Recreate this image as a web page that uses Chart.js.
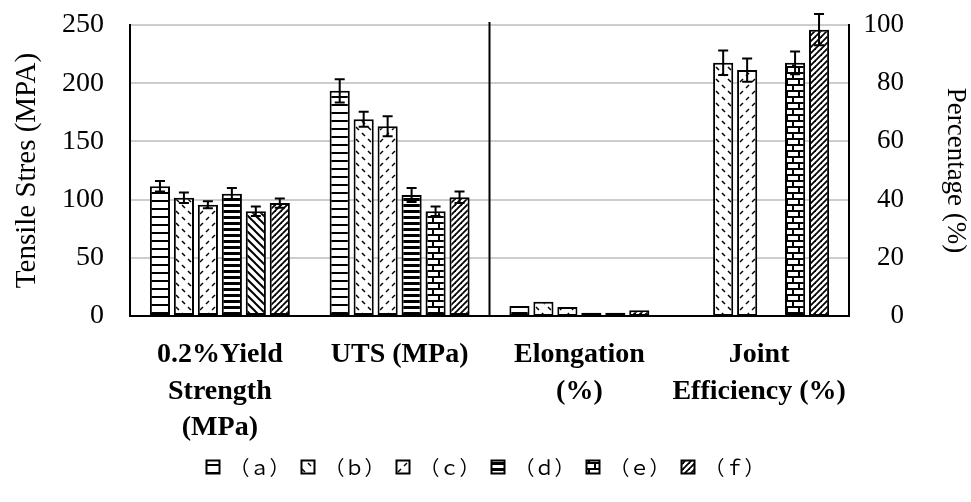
<!DOCTYPE html>
<html>
<head>
<meta charset="utf-8">
<script src="https://cdn.jsdelivr.net/npm/chart.js@4.4.0/dist/chart.umd.min.js"></script>
<style>
  html, body { margin: 0; padding: 0; background: #fff; }
  #wrap { width: 971px; height: 502px; }
</style>
</head>
<body>
<div id="wrap"><canvas id="chart" width="971" height="502"></canvas></div>
<script>
// categories: first two read on the MPa axis, last two on the % axis
const categories = [['0.2%Yield', 'Strength', '(MPa)'], 'UTS (MPa)', ['Elongation', '(%)'], ['Joint', 'Efficiency (%)']];
const percentFrom = 2;
const seriesNames = ['（ａ）', '（ｂ）', '（ｃ）', '（ｄ）', '（ｅ）', '（ｆ）'];
const rightTitle = 'Percentage (%)';

const valuesA = [111.5, 193.5, 3.4, null];
const valuesB = [101.5, 169, 4.9, 87];
const valuesC = [95.5, 163, 3.1, 84.5];
const valuesD = [105, 104, 1.1, null];
const valuesE = [90, 90, 1.1, 87];
const valuesF = [97, 102, 2, 98.4];

const errorsA = [4.5, 10, 0, 0];
const errorsB = [4.5, 6.5, 0, 4.2];
const errorsC = [3, 8.5, 0, 4];
const errorsD = [5, 6, 0, 0];
const errorsE = [4, 4, 0, 3.9];
const errorsF = [4, 5, 0, 5.4];

const stressTicks = [0, 50, 100, 150, 200, 250];
const percentTicks = [0, 20, 40, 60, 80, 100];

const ctx = document.getElementById('chart').getContext('2d');

function makePattern(w, h, draw) {
    const c = document.createElement('canvas');
    c.width = w; c.height = h;
    const g = c.getContext('2d');
    g.fillStyle = '#fff';
    g.fillRect(0, 0, w, h);
    g.fillStyle = '#000';
    g.strokeStyle = '#000';
    draw(g);
    return ctx.createPattern(c, 'repeat');
}
function line(g, x1, y1, x2, y2) {
    g.beginPath(); g.moveTo(x1, y1); g.lineTo(x2, y2); g.stroke();
}

const hLines = makePattern(8, 8, g => g.fillRect(0, 0, 8, 2));
const hThick = makePattern(6, 6, g => g.fillRect(0, 0, 6, 3));
const dashBack = makePattern(12, 12, g => {
    g.lineWidth = 1.5;
    line(g, 2, 1, 5, 4);
    line(g, 8, 7, 11, 10);
});
const dashFwd = makePattern(12, 12, g => {
    g.lineWidth = 1.5;
    line(g, 5, 1, 2, 4);
    line(g, 11, 7, 8, 10);
});
const brick = makePattern(12, 12, g => {
    g.fillRect(0, 0, 12, 2);
    g.fillRect(0, 6, 12, 2);
    g.fillRect(0, 0, 2, 6);
    g.fillRect(6, 6, 2, 6);
});
const diagBack = makePattern(8, 8, g => {
    g.lineWidth = 2;
    line(g, -1, -1, 9, 9);
    line(g, -1, 7, 1, 9);
    line(g, 7, -1, 9, 1);
});
const diagFwd = makePattern(6, 6, g => {
    g.lineWidth = 1.8;
    line(g, -1, 7, 7, -1);
    line(g, -1, 1, 1, -1);
    line(g, 5, 7, 7, 5);
});

const series = [
    { name: seriesNames[0], values: valuesA, errors: errorsA, fill: [hLines, hLines, hLines, hLines], legendFill: hLines },
    { name: seriesNames[1], values: valuesB, errors: errorsB, fill: [dashBack, dashBack, dashBack, dashBack], legendFill: dashBack },
    { name: seriesNames[2], values: valuesC, errors: errorsC, fill: [dashFwd, dashFwd, dashFwd, dashFwd], legendFill: dashFwd },
    { name: seriesNames[3], values: valuesD, errors: errorsD, fill: [hThick, hThick, hThick, hThick], legendFill: hThick },
    { name: seriesNames[4], values: valuesE, errors: errorsE, fill: [diagBack, brick, brick, brick], legendFill: brick },
    { name: seriesNames[5], values: valuesF, errors: errorsF, fill: [diagFwd, diagFwd, diagFwd, diagFwd], legendFill: diagFwd }
];

// each series gets one dataset per axis, sharing a stack key so they share one slot
const datasets = [];
['y', 'y1'].forEach(axis => {
    series.forEach((s, k) => {
        const keep = i => axis === 'y' ? i < percentFrom : i >= percentFrom;
        datasets.push({
            label: s.name,
            data: s.values.map((v, i) => keep(i) ? v : null),
            errors: s.errors.map((e, i) => keep(i) ? e : 0),
            yAxisID: axis,
            stack: 's' + k,
            backgroundColor: s.fill,
            borderColor: '#000',
            borderWidth: 2,
            borderSkipped: false,
            categoryPercentage: 0.8,
            barPercentage: 0.84
        });
    });
});

const errorBars = {
    id: 'errorBars',
    afterDatasetsDraw(chart) {
        const c = chart.ctx;
        c.save();
        c.strokeStyle = '#000';
        c.lineWidth = 2;
        chart.data.datasets.forEach((ds, di) => {
            const meta = chart.getDatasetMeta(di);
            const scale = chart.scales[ds.yAxisID];
            ds.data.forEach((v, i) => {
                const e = ds.errors[i];
                if (v == null || !e) return;
                const x = meta.data[i].x;
                const yTop = scale.getPixelForValue(v + e);
                const yBot = scale.getPixelForValue(v - e);
                c.beginPath();
                c.moveTo(x, yTop); c.lineTo(x, yBot);
                c.moveTo(x - 5, yTop); c.lineTo(x + 5, yTop);
                c.moveTo(x - 5, yBot); c.lineTo(x + 5, yBot);
                c.stroke();
            });
        });
        c.restore();
    }
};

// vertical divider between the MPa and % groups, plus the right axis title
const extras = {
    id: 'extras',
    afterLayout(chart) {
        // centre the legend on the whole canvas, not on the padded box
        const lg = chart.legend;
        const d = chart.width / 2 - (lg.left + lg.right) / 2;
        lg.left += d;
        lg.right += d;
    },
    afterDatasetsDraw(chart) {
        const xs = chart.scales.x;
        const area = chart.chartArea;
        const x = (xs.getPixelForValue(percentFrom - 1) + xs.getPixelForValue(percentFrom)) / 2;
        const c = chart.ctx;
        c.save();
        c.strokeStyle = '#000';
        c.lineWidth = 2;
        c.beginPath();
        c.moveTo(x, area.top - 3);
        c.lineTo(x, area.bottom);
        c.stroke();
        c.translate(chart.width - 16, (area.top + area.bottom) / 2);
        c.rotate(Math.PI / 2);
        c.fillStyle = '#000';
        c.font = '27px "Liberation Serif"';
        c.textAlign = 'center';
        c.textBaseline = 'middle';
        c.fillText(rightTitle, 0, 0);
        c.restore();
    }
};

new Chart(ctx, {
    type: 'bar',
    data: { labels: categories, datasets: datasets },
    plugins: [errorBars, extras],
    options: {
        responsive: false,
        animation: false,
        layout: { padding: { top: 25, left: 0, right: 67, bottom: 15 } },
        plugins: {
            tooltip: { enabled: false },
            legend: {
                position: 'bottom',
                onClick: null,
                labels: {
                    color: '#000',
                    font: { family: '"Noto Sans CJK SC"', size: 20 },
                    boxWidth: 13,
                    boxHeight: 13,
                    padding: 12,
                    generateLabels: () => series.map((s, i) => ({
                        text: s.name,
                        fillStyle: s.legendFill,
                        strokeStyle: '#000',
                        lineWidth: 2,
                        hidden: false,
                        datasetIndex: i
                    }))
                }
            }
        },
        scales: {
            x: {
                grid: { display: false },
                border: { color: '#000', width: 2 },
                ticks: {
                    color: '#000',
                    font: { family: '"Liberation Serif"', size: 28, weight: 'bold', lineHeight: 1.3 },
                    maxRotation: 0,
                    minRotation: 0,
                    autoSkip: false,
                    padding: 13
                },
                afterFit: s => { s.height = 129; }
            },
            y: {
                position: 'left',
                min: 0,
                max: 250,
                afterBuildTicks: s => { s.ticks = stressTicks.map(v => ({ value: v })); },
                grid: { color: '#cdcdcd', lineWidth: 2, tickLength: 26, tickColor: 'rgba(0,0,0,0)' },
                border: { color: '#000', width: 2 },
                ticks: {
                    color: '#000',
                    font: { family: '"Liberation Serif"', size: 28 },
                    padding: 0
                },
                title: {
                    display: true,
                    text: 'Tensile Stres (MPA)',
                    color: '#000',
                    font: { family: '"Liberation Serif"', size: 29 },
                    padding: { top: 10, bottom: 0 }
                },
                afterFit: s => { s.width = 130; }
            },
            y1: {
                position: 'right',
                min: 0,
                max: 100,
                afterBuildTicks: s => { s.ticks = percentTicks.map(v => ({ value: v })); },
                grid: { display: false, tickLength: 15, tickColor: 'rgba(0,0,0,0)' },
                border: { color: '#000', width: 2 },
                ticks: {
                    color: '#000',
                    font: { family: '"Liberation Serif"', size: 27 },
                    padding: 0,
                    crossAlign: 'far'
                },
                afterFit: s => { s.width = 55; }
            }
        }
    }
});
</script>
</body>
</html>
